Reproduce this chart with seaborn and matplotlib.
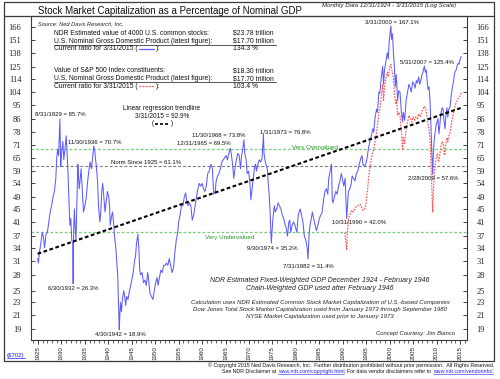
import matplotlib
matplotlib.use("Agg")
import matplotlib.pyplot as plt
import seaborn as sns
import pandas as pd
from matplotlib.lines import Line2D
from matplotlib.patches import Rectangle
from matplotlib.ticker import NullLocator, FixedLocator

W, H = 500, 379

# ---------------- data ----------------
blue_t = [1924.92, 1925.1, 1925.3, 1925.6, 1925.9, 1926.2, 1926.4, 1926.7, 1927.0, 1927.3,
          1927.6, 1927.9, 1928.2, 1928.5, 1928.8, 1929.0, 1929.2, 1929.4, 1929.67, 1929.75,
          1929.85, 1930.0, 1930.3, 1930.5, 1930.8, 1931.0, 1931.2, 1931.4, 1931.6, 1931.8,
          1932.0, 1932.2, 1932.4, 1932.5, 1932.6, 1932.75, 1932.9, 1933.1, 1933.3, 1933.5,
          1933.6, 1933.8, 1934.0, 1934.2, 1934.5, 1934.7, 1935.0, 1935.3, 1935.6, 1935.9,
          1936.1, 1936.4, 1936.6, 1936.9, 1937.1, 1937.4, 1937.7, 1937.9, 1938.2, 1938.4,
          1938.6, 1938.8, 1939.0, 1939.3, 1939.6, 1939.8, 1940.1, 1940.3, 1940.4, 1940.6,
          1940.9, 1941.1, 1941.4, 1941.6, 1941.8, 1942.0, 1942.2, 1942.33, 1942.45, 1942.6,
          1942.8, 1943.0, 1943.3, 1943.5, 1943.7, 1943.9, 1944.2, 1944.5, 1944.8, 1945.0,
          1945.3, 1945.6, 1945.8, 1946.0, 1946.3, 1946.5, 1946.7, 1946.9, 1947.2, 1947.5,
          1947.8, 1948.1, 1948.4, 1948.6, 1948.9, 1949.2, 1949.5, 1949.8, 1950.1, 1950.4,
          1950.6, 1950.9, 1951.2, 1951.5, 1951.8, 1952.1, 1952.4, 1952.7, 1953.0, 1953.3,
          1953.6, 1953.9, 1954.2, 1954.5, 1954.8, 1955.0, 1955.3, 1955.6, 1955.9, 1956.2,
          1956.5, 1956.7, 1957.0, 1957.3, 1957.6, 1957.9, 1958.2, 1958.5, 1958.8, 1959.1,
          1959.4, 1959.7, 1960.0, 1960.3, 1960.6, 1960.9, 1961.2, 1961.5, 1961.9, 1962.2,
          1962.4, 1962.5, 1962.8, 1963.0, 1963.3, 1963.6, 1963.9, 1964.2, 1964.5, 1964.8,
          1965.1, 1965.4, 1965.6, 1965.99, 1966.2, 1966.5, 1966.75, 1967.0, 1967.3, 1967.6,
          1967.9, 1968.2, 1968.4, 1968.6, 1968.92, 1969.1, 1969.4, 1969.6, 1969.9, 1970.2,
          1970.4, 1970.6, 1970.9, 1971.2, 1971.4, 1971.6, 1971.9, 1972.2, 1972.5, 1972.8,
          1973.08, 1973.2, 1973.4, 1973.6, 1973.9, 1974.1, 1974.3, 1974.5, 1974.75, 1974.9,
          1975.1, 1975.4, 1975.6, 1975.9, 1976.2, 1976.5, 1976.8, 1977.1, 1977.4, 1977.7,
          1977.9, 1978.2, 1978.5, 1978.7, 1978.9, 1979.2, 1979.5, 1979.8, 1980.2, 1980.5,
          1980.9, 1981.2, 1981.5, 1981.8, 1982.1, 1982.4, 1982.58, 1982.8, 1983.0, 1983.3,
          1983.5, 1983.8, 1984.1, 1984.4, 1984.7, 1985.0, 1985.3, 1985.6, 1985.9, 1986.2,
          1986.5, 1986.8, 1987.0, 1987.3, 1987.6, 1987.75, 1987.9, 1988.2, 1988.5, 1988.8,
          1989.1, 1989.4, 1989.7, 1989.9, 1990.2, 1990.5, 1990.83, 1991.0, 1991.2, 1991.5,
          1991.8, 1992.0, 1992.3, 1992.6, 1992.9, 1993.2, 1993.5, 1993.9, 1994.1, 1994.3,
          1994.6, 1994.9, 1995.2, 1995.5, 1995.8, 1996.1, 1996.4, 1996.6, 1996.9, 1997.2,
          1997.4, 1997.7, 1997.9, 1998.2, 1998.5, 1998.7, 1998.9, 1999.2, 1999.5, 1999.7,
          1999.9, 2000.1, 2000.25, 2000.4, 2000.6, 2000.8, 2001.0, 2001.2, 2001.4, 2001.7,
          2001.9, 2002.2, 2002.5, 2002.75, 2002.9, 2003.2, 2003.5, 2003.8, 2004.1, 2004.4,
          2004.6, 2004.9, 2005.2, 2005.4, 2005.7, 2005.9, 2006.2, 2006.4, 2006.7, 2006.9,
          2007.1, 2007.4, 2007.6, 2007.8, 2008.0, 2008.2, 2008.4, 2008.6, 2008.8, 2008.95,
          2009.16, 2009.3, 2009.5, 2009.7, 2009.9, 2010.1, 2010.3, 2010.5, 2010.7, 2010.9,
          2011.2, 2011.4, 2011.6, 2011.8, 2012.0, 2012.2, 2012.4, 2012.6, 2012.9, 2013.1,
          2013.4, 2013.6, 2013.8, 2014.0, 2014.2, 2014.4, 2014.6, 2014.8, 2015.0, 2015.25]
blue_v = [31.5, 30.5, 33, 35, 38, 36.5, 34, 37.5, 38, 41,
          44, 46, 49, 51, 56, 65, 69, 66, 85.7, 74,
          61, 66, 73, 64, 70, 76, 68, 58, 48, 40,
          42, 36, 35, 26.3, 38, 45, 40, 36, 48, 62,
          58, 52, 56, 60, 50, 44, 46, 49, 55, 60,
          63, 60, 64, 70.7, 68, 62, 55, 46, 41, 44,
          51, 54, 50, 44, 48, 51, 49, 45, 40, 42,
          44, 41, 36, 34, 31, 28, 22, 18.9, 21, 23,
          21.5, 23.5, 25, 24, 22.5, 24, 23.5, 25, 26, 27,
          28.5, 31, 32, 35, 37.5, 34, 29, 28, 28.5, 26.5,
          27, 26, 28.5, 27, 24.5, 24, 23.5, 25, 26.5, 27.5,
          26, 27.5, 29, 28.5, 30, 30, 30.5, 30, 31.5, 30,
          28.5, 29.5, 33, 36, 38, 41, 43, 46, 46, 49,
          50.5, 48, 46, 47, 46, 41.5, 43, 46, 49, 52,
          54, 53, 54, 52, 51, 53, 58, 59, 62, 60,
          52, 50, 51, 55, 57, 58, 60, 63, 64, 65,
          66, 64, 66, 69.5, 67, 62, 56, 60, 64, 67,
          66, 60, 66, 68, 73.8, 67, 64, 58, 59, 54,
          48, 51, 56, 61, 62, 59, 62, 64, 63, 65,
          76.8, 67, 64, 62, 60, 54, 50, 44, 35.2, 38,
          42, 46, 44, 45, 47, 46, 45, 43, 42, 40,
          39.5, 37, 41, 41.5, 38, 40, 41, 40, 38, 43,
          45, 43, 41, 37, 36, 34, 31.4, 37, 40, 42,
          44, 42, 40, 38.5, 40, 42, 43, 44, 48, 51,
          52, 50, 56, 59, 62, 48, 47, 49, 51, 50,
          53, 55, 58, 56, 53, 56, 42, 46, 51, 52,
          54, 57, 56, 55, 58, 59, 62, 65, 66, 62,
          61, 62, 65, 70, 73, 76, 80, 78, 87, 92,
          90, 104, 103, 115, 125, 110, 122, 130, 138, 132,
          150, 160, 167.1, 152, 158, 138, 125, 108, 118, 98,
          105, 104, 90, 84, 90, 85, 98, 104, 110, 107,
          104, 112, 110, 107, 113, 111, 116, 110, 114, 118,
          120, 125.4, 120, 122, 112, 106, 108, 98, 82, 70,
          57.6, 66, 74, 78, 82, 84, 86, 77, 82, 89,
          93, 92, 84, 80, 88, 93, 87, 92, 94, 101,
          108, 112, 118, 121, 122, 126, 128, 127, 131, 134.3]

red_t = [1990.45, 1990.6, 1990.83, 1991.0, 1991.2, 1991.5, 1991.9, 1992.2, 1992.6, 1992.9,
         1993.3, 1993.7, 1994.0, 1994.3, 1994.7, 1995.0, 1995.3, 1995.6, 1995.9, 1996.2,
         1996.5, 1996.8, 1997.1, 1997.4, 1997.7, 1997.9, 1998.2, 1998.5, 1998.7, 1998.9,
         1999.2, 1999.5, 1999.7, 2000.0, 2000.25, 2000.5, 2000.7, 2000.9, 2001.1, 2001.3,
         2001.5, 2001.7, 2001.9, 2002.2, 2002.5, 2002.75, 2002.9, 2003.2, 2003.5, 2003.8,
         2004.1, 2004.4, 2004.7, 2005.0, 2005.3, 2005.6, 2005.9, 2006.2, 2006.5, 2006.8,
         2007.1, 2007.4, 2007.7, 2007.9, 2008.2, 2008.4, 2008.6, 2008.8, 2009.0, 2009.16,
         2009.3, 2009.5, 2009.7, 2009.9, 2010.2, 2010.4, 2010.6, 2010.9, 2011.2, 2011.4,
         2011.7, 2011.9, 2012.2, 2012.4, 2012.7, 2012.9, 2013.2, 2013.5, 2013.8, 2014.0,
         2014.3, 2014.5, 2014.8, 2015.0, 2015.25]
red_v = [38, 36, 33.5, 38, 42, 43, 44.5, 44, 45, 46,
         46, 46.5, 45.5, 44.5, 45, 47, 52, 58, 62, 66,
         68, 72, 76, 82, 90, 92, 100, 110, 98, 108,
         115, 120, 116, 124, 127, 121, 118, 108, 100, 96,
         98, 88, 90, 88, 78, 69, 75, 72, 80, 84,
         88, 86, 84, 87, 85, 87, 86, 89, 87, 90,
         92, 94, 92, 89, 82, 80, 74, 62, 52, 44,
         50, 58, 62, 65, 67, 63, 65, 70, 73, 72,
         66, 70, 75, 73, 77, 78, 84, 88, 92, 95,
         97, 99, 100, 101, 103.4]

trend_t = [1924.92, 2015.25]
trend_v = [32.6, 92.9]

overvalued_level = 69.0
norm_level = 61.1
undervalued_level = 38.2

ytick_vals = [19, 21, 23, 25, 28, 31, 34, 37, 41, 45, 49, 54, 59, 65, 71, 78,
              86, 95, 104, 114, 125, 138, 151, 166]
ytick_labels = [str(v) for v in ytick_vals]
xtick_years = list(range(1925, 2016, 5))
xminor_years = list(range(1924, 2017))

BLUE = "#5c5cff"
RED = "#ff5050"
GREEN = "#77cc77"
GREEN_TXT = "#229922"
GRAY = "#7a7a7a"
FRAME = "#3a3a3a"

# ---------------- figure ----------------
sns.set_theme(style="white")
plt.rcParams['font.family'] = ['Liberation Sans', 'DejaVu Sans']

fig = plt.figure(figsize=(W / 100, H / 100), dpi=100)
fig.patch.set_facecolor("white")


def fx(x):
    return x / W


def fy(y):
    return 1 - y / H


ax = fig.add_axes([fx(31), fy(340), (467 - 31) / W, (340 - 16) / H])
ax.set_facecolor("white")

ax.axhline(overvalued_level, color=GREEN, lw=0.9, ls=(0, (2.2, 1.6)), zorder=1)
ax.axhline(undervalued_level, color=GREEN, lw=0.9, ls=(0, (2.2, 1.6)), zorder=1)
ax.axhline(norm_level, color=GRAY, lw=0.8, ls=(0, (2.6, 1.8)), zorder=1)

df_blue = pd.DataFrame({"year": blue_t, "ratio": blue_v})
df_red = pd.DataFrame({"year": red_t, "ratio": red_v})
df_trend = pd.DataFrame({"year": trend_t, "ratio": trend_v})

sns.lineplot(data=df_blue, x="year", y="ratio", ax=ax, color=BLUE, linewidth=0.75,
             estimator=None, sort=False, zorder=3)
sns.lineplot(data=df_red, x="year", y="ratio", ax=ax, color=RED, linewidth=0.85,
             estimator=None, sort=False, zorder=4)
ax.lines[-1].set_linestyle((0, (1.4, 1.1)))
sns.lineplot(data=df_trend, x="year", y="ratio", ax=ax, color="black", linewidth=1.5,
             estimator=None, sort=False, zorder=5)
ax.lines[-1].set_linestyle((0, (1.8, 1.2)))

ax.set_yscale("log")
ax.set_ylim(17.56, 179.6)
ax.set_xlim(1923.51, 2016.49)
ax.yaxis.set_major_locator(FixedLocator(ytick_vals))
ax.set_yticklabels(ytick_labels)
ax.yaxis.set_minor_locator(NullLocator())
ax.set_xticks(xtick_years)
ax.set_xticklabels([str(y) for y in xtick_years], rotation=90)
ax.xaxis.set_minor_locator(FixedLocator(xminor_years))
ax.set_xlabel("")
ax.set_ylabel("")

ax.tick_params(axis="y", which="major", direction="in", length=3, width=0.6,
               left=True, right=True, labelleft=True, labelright=True,
               labelsize=6, pad=7, colors="#222222")
ax.tick_params(axis="x", which="major", direction="out", length=3, width=0.6,
               bottom=True, labelbottom=True, labelsize=4.5, pad=1.5, colors="#222222")
ax.tick_params(axis="x", which="minor", direction="out", length=2, width=0.5,
               bottom=True, colors="#222222")
for lab in ax.get_yticklabels():
    lab.set_fontfamily(["Liberation Serif", "DejaVu Serif"])
for s in ax.spines.values():
    s.set_visible(True)
    s.set_color(FRAME)
    s.set_linewidth(0.8)
ax.grid(False)

# outer frame and title bar
fig.add_artist(Rectangle((fx(4), fy(361)), (494 - 4) / W, (361 - 2) / H,
                         transform=fig.transFigure, fill=False, ec=FRAME, lw=0.9))
fig.add_artist(Line2D([fx(4), fx(494)], [fy(16), fy(16)], transform=fig.transFigure,
                      color=FRAME, lw=0.9))

renderer = fig.canvas.get_renderer()


def T(x, y, s, size=4.4, ha="left", va="center", **kw):
    return fig.text(fx(x), fy(y), s, fontsize=size, ha=ha, va=va, **kw)


def width_px(t):
    return t.get_window_extent(renderer=renderer).width


def space_px(size):
    return size * 100 / 72 * 0.278


# title
T(38, 10.5, "Stock Market Capitalization as a Percentage of Nominal GDP", size=7.05, color="#111111")
T(322, 6, "Monthly Data 12/31/1924 - 3/31/2015 (Log Scale)", size=4.4, style="italic", color="#222222")
T(38, 24, "Source: Ned Davis Research, Inc.", size=4.1, style="italic", color="#222222")

# value blocks
BS = 4.85
rows = [
    (33.3, "NDR Estimated value of 4000 U.S. common stocks:", "$23.78 trillion", None),
    (41.3, "U.S. Nominal Gross Domestic Product (latest figure):", "$17.70 trillion", None),
    (48.7, None, "134.3 %", "blue"),
    (71.0, "Value of S&P 500 Index constituents:", "$18.30 trillion", None),
    (78.6, "U.S. Nominal Gross Domestic Product (latest figure):", "$17.70 trillion", None),
    (86.0, None, "103.4 %", "red"),
]
for y, lab, val, sample in rows:
    if lab is not None:
        T(54, y, lab, size=BS, color="#111111")
    else:
        t1 = T(54, y, "Current ratio for 3/31/2015 (", size=BS, color="#111111")
        w1 = width_px(t1)
        x0 = 54 + w1 + 1.5
        if sample == "blue":
            fig.add_artist(Line2D([fx(x0), fx(x0 + 15)], [fy(y), fy(y)], transform=fig.transFigure,
                                  color=BLUE, lw=0.9))
        else:
            fig.add_artist(Line2D([fx(x0), fx(x0 + 15)], [fy(y), fy(y)], transform=fig.transFigure,
                                  color=RED, lw=0.9, ls=(0, (1.4, 1.1))))
        T(x0 + 16.5, y, "):", size=BS, color="#111111")
    T(233, y, val, size=BS, color="#111111")
for yl in (44.8, 82.0):
    fig.add_artist(Line2D([fx(54), fx(276)], [fy(yl), fy(yl)], transform=fig.transFigure,
                          color="#555555", lw=0.7))

# trendline note
T(162, 109, "Linear regression trendline", size=4.7, ha="center", color="#111111")
T(162, 116.5, "3/31/2015 = 92.9%", size=4.7, ha="center", color="#111111")
T(153, 124, "(", size=4.7, ha="center", color="#111111")
T(171, 124, ")", size=4.7, ha="center", color="#111111")
fig.add_artist(Line2D([fx(155), fx(169)], [fy(124), fy(124)], transform=fig.transFigure,
                      color="black", lw=1.2, ls=(0, (1.8, 1.2))))

# point annotations
AS = 4.3
notes = [
    (35, 114, "8/31/1929 = 85.7%"),
    (68, 143, "11/30/1936 = 70.7%"),
    (111, 163, "Norm Since 1925 = 61.1%"),
    (177, 143.5, "12/31/1965 = 69.5%"),
    (192, 136, "11/30/1968 = 73.8%"),
    (260, 132, "1/31/1973 = 76.8%"),
    (365, 22, "3/31/2000 = 167.1%"),
    (400, 62, "5/31/2007 = 125.4%"),
    (408, 179, "2/28/2009 = 57.6%"),
    (247, 248, "9/30/1974 = 35.2%"),
    (283, 266, "7/31/1982 = 31.4%"),
    (332, 223, "10/31/1990 = 42.0%"),
    (48, 289, "6/30/1932 = 26.3%"),
    (95, 335, "4/30/1942 = 18.9%"),
]
for x, y, s in notes:
    T(x, y, s, size=AS, color="#111111")
T(292, 147, "Very Overvalued", size=4.5, color=GREEN_TXT)
T(205, 237.5, "Very Undervalued", size=4.5, color=GREEN_TXT)

# italic notes
T(320, 281, "NDR Estimated Fixed-Weighted GDP December 1924 - February 1946", size=5.0,
  ha="center", style="italic", color="#222222")
T(320, 288.7, "Chain-Weighted GDP used after February 1946", size=5.0,
  ha="center", style="italic", color="#222222")
T(320, 302.7, "Calculation uses NDR Estimated Common Stock Market Capitalization of U.S.-based Companies",
  size=4.3, ha="center", style="italic", color="#222222")
T(320, 309.5, "Dow Jones Total Stock Market Capitalization used from January 1973 through September 1980",
  size=4.3, ha="center", style="italic", color="#222222")
T(320, 316.3, "NYSE Market Capitalization used prior to January 1973",
  size=4.3, ha="center", style="italic", color="#222222")
T(376, 334, "Concept Courtesy: Jim Bianco", size=4.2, style="italic", color="#222222")

# bottom-left link
LINK = "#2020ee"
tl = T(7, 355, "($702)", size=4.3, color=LINK)
wl = width_px(tl)
fig.add_artist(Line2D([fx(7), fx(7 + wl)], [fy(358), fy(358)], transform=fig.transFigure,
                      color=LINK, lw=0.5))

# copyright lines (right aligned at x=494)
CS = 3.8
T(494, 365, "\u00a9 Copyright 2015 Ned Davis Research, Inc.  Further distribution prohibited without prior permission.  All Rights Reserved.",
  size=CS, ha="right", color="#111111")
parts = [("See NDR Disclaimer at", "#111111", False),
         ("www.ndr.com/copyright.html", LINK, True),
         (". For data vendor disclaimers refer to", "#111111", False),
         ("www.ndr.com/vendorinfo/", LINK, True),
         (".", "#111111", False)]
gaps = [True, False, True, False, False]
widths = []
for s, c, u in parts:
    tt = T(0, 371.5, s, size=CS)
    widths.append(width_px(tt))
    tt.remove()
sp = space_px(CS)
total = sum(widths) + sp * sum(gaps)
x = 494 - total
for (s, c, u), w, g in zip(parts, widths, gaps):
    T(x, 371.5, s, size=CS, color=c)
    if u:
        fig.add_artist(Line2D([fx(x), fx(x + w)], [fy(374), fy(374)], transform=fig.transFigure,
                              color=c, lw=0.4))
    x += w + (sp if g else 0)

fig.savefig("out.png", dpi=100, facecolor="white")
